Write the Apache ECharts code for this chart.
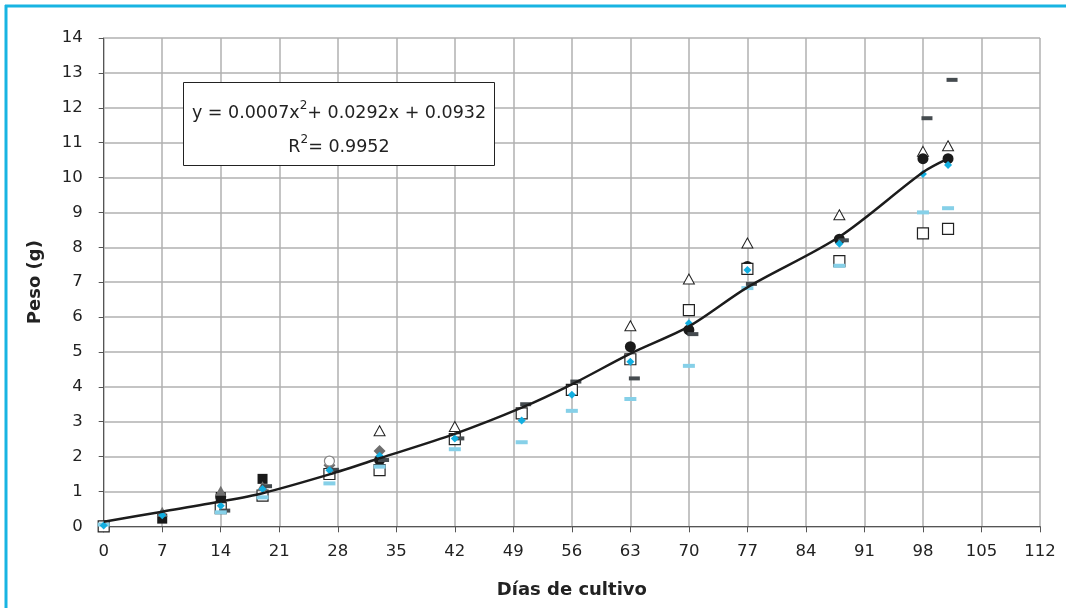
<!DOCTYPE html>
<html><head><meta charset="utf-8">
<script src="https://cdn.jsdelivr.net/npm/echarts@6/dist/echarts.min.js"></script>
<style>html,body{margin:0;padding:0;background:#fff}#c{width:1066px;height:608px}</style>
</head><body><div id="c"></div>
<script>
const xTicks = [0,7,14,21,28,35,42,49,56,63,70,77,84,91,98,105,112];
const yTicks = [0,1,2,3,4,5,6,7,8,9,10,11,12,13,14];
const triOpen = [[33,2.74],[42,2.86],[63,5.75],[70,7.09],[77,8.12],[88,8.93],[98,10.75],[101,10.91]];
const squareOpen = [[0,0],[14,0.52],[19,0.88],[27,1.5],[33,1.61],[42,2.5],[50,3.24],[56,3.91],[63,4.79],[70,6.2],[77,7.38],[88,7.6],[98,8.4],[101,8.53]];
const circleBlack = [[14,0.85],[33,1.9],[63,5.15],[70,5.63],[77,7.45],[88,8.23],[98,10.54],[101,10.54]];
const squareBlack = [[7,0.22],[14,0.84],[19,1.36]];
const triGray = [[7,0.42],[14,1.02],[19,1.15]];
const diamondGray = [[27,1.75],[33,2.16]];
const circleOpen = [[27,1.87]];
const dashDark = [[14,0.45],[19,1.15],[27,1.62],[33,1.9],[42,2.52],[50,3.5],[56,4.15],[63,4.24],[70,5.51],[77,6.95],[88,8.2],[98,11.7],[101,12.8]];
const dashLight = [[0,0.05],[14,0.4],[19,0.83],[27,1.23],[33,1.71],[42,2.21],[50,2.41],[56,3.31],[63,3.65],[70,4.6],[77,6.83],[88,7.47],[98,9.0],[101,9.12]];
const cyanPts = [[0,0.02],[7,0.32],[14,0.59],[19,1.07],[27,1.61],[33,2.02],[42,2.52],[50,3.03],[56,3.77],[63,4.72],[70,5.82],[77,7.35],[88,8.1],[98,10.1],[101,10.36]];
const trend = [[0,0.13],[7,0.42],[14,0.71],[19,0.95],[27,1.49],[33,1.95],[42,2.65],[50,3.4],[56,4.07],[63,4.95],[70,5.73],[77,6.85],[88,8.3],[98,10.15],[101,10.54]];
const eqLine1 = 'y = 0.0007x{sup|2}+ 0.0292x + 0.0932';
const eqLine2 = 'R{sup|2}= 0.9952';

const FONT = '"DejaVu Sans", sans-serif';
const chart = echarts.init(document.getElementById('c'), null, {renderer:'canvas'});
function sc(name, data, symbol, size, color, border, bw, z, offset){
  return {name, type:'scatter', data, symbol, symbolSize:size, symbolOffset: offset||[0,0], z,
    itemStyle:{color, borderColor:border||color, borderWidth:bw||0, opacity:1}, silent:true, animation:false};
}
const supStyle = {fontSize:12, verticalAlign:'top', padding:[0,0,14,0], fontFamily:FONT, fill:'#222'};
chart.setOption({
  animation:false,
  textStyle:{fontFamily:FONT},
  grid:{left:103.7, right:26, top:38, bottom:81.7, containLabel:false},
  xAxis:{type:'value', min:0, max:112, interval:7,
    name:'Días de cultivo', nameLocation:'middle', nameGap:55,
    nameTextStyle:{fontFamily:FONT, fontWeight:'bold', fontSize:18, color:'#222'},
    axisLine:{lineStyle:{color:'#555', width:1}},
    axisTick:{show:true, length:6, lineStyle:{color:'#555'}},
    axisLabel:{fontFamily:FONT, fontSize:16.5, color:'#222', margin:17, formatter:v=>xTicks.includes(v)?String(v):''},
    splitLine:{show:true, lineStyle:{color:'#b0b0b0', width:1.5}}},
  yAxis:{type:'value', min:0, max:14, interval:1,
    name:'Peso (g)', nameLocation:'middle', nameGap:59, nameRotate:90,
    nameTextStyle:{fontFamily:FONT, fontWeight:'bold', fontSize:18, color:'#222'},
    axisLine:{show:true, lineStyle:{color:'#555', width:1}},
    axisTick:{show:true, length:5, lineStyle:{color:'#555'}},
    axisLabel:{fontFamily:FONT, fontSize:16.5, color:'#222', margin:21, formatter:v=>yTicks.includes(v)?String(v):''},
    splitLine:{show:true, lineStyle:{color:'#b0b0b0', width:1.5}}},
  graphic:[
    {type:'line', shape:{x1:5, y1:6, x2:1066, y2:6}, style:{stroke:'#18b4e2', lineWidth:3}, z:100},
    {type:'line', shape:{x1:6, y1:5, x2:6, y2:608}, style:{stroke:'#18b4e2', lineWidth:3}, z:100},
    {type:'rect', shape:{x:183.5, y:82.5, width:311, height:83}, style:{fill:'#fff', stroke:'#222', lineWidth:1}, z:100},
    {type:'text', x:339, y:113, z:101, style:{text:eqLine1, fontFamily:FONT, fontSize:17.5, fill:'#222', align:'center', verticalAlign:'middle', rich:{sup:supStyle}}},
    {type:'text', x:339, y:147, z:101, style:{text:eqLine2, fontFamily:FONT, fontSize:17.5, fill:'#222', align:'center', verticalAlign:'middle', rich:{sup:supStyle}}}
  ],
  series:[
    sc('triOpen', triOpen, 'triangle', [11,10], '#fff', '#222', 1, 2),
    sc('circleBlack', circleBlack, 'circle', 11, '#1a1a1a', '#1a1a1a', 0, 3),
    sc('squareOpen', squareOpen, 'rect', 11, '#fff', '#222', 1.2, 4),
    sc('squareBlack', squareBlack, 'rect', 10, '#1a1a1a', '#1a1a1a', 0, 5),
    sc('triGray', triGray, 'triangle', [11,10], '#707070', '#707070', 0, 6),
    sc('diamondGray', diamondGray, 'diamond', [12,12], '#6e6e6e', '#6e6e6e', 0, 6),
    sc('circleOpen', circleOpen, 'circle', 10, '#fff', '#888', 1.2, 7),
    sc('dashDark', dashDark, 'rect', [11,4], '#454b4f', '#454b4f', 0, 8, [4,0]),
    sc('dashLight', dashLight, 'rect', [12,4], '#86d0e8', '#86d0e8', 0, 8),
    sc('cyan', cyanPts, 'diamond', [8,8], '#12aee0', '#12aee0', 0, 9),
    {name:'trend', type:'line', data:trend, smooth:0.3, symbol:'none', z:10,
      lineStyle:{color:'#1c1c1c', width:2.5}, silent:true, animation:false}
  ]
});
</script></body></html>
